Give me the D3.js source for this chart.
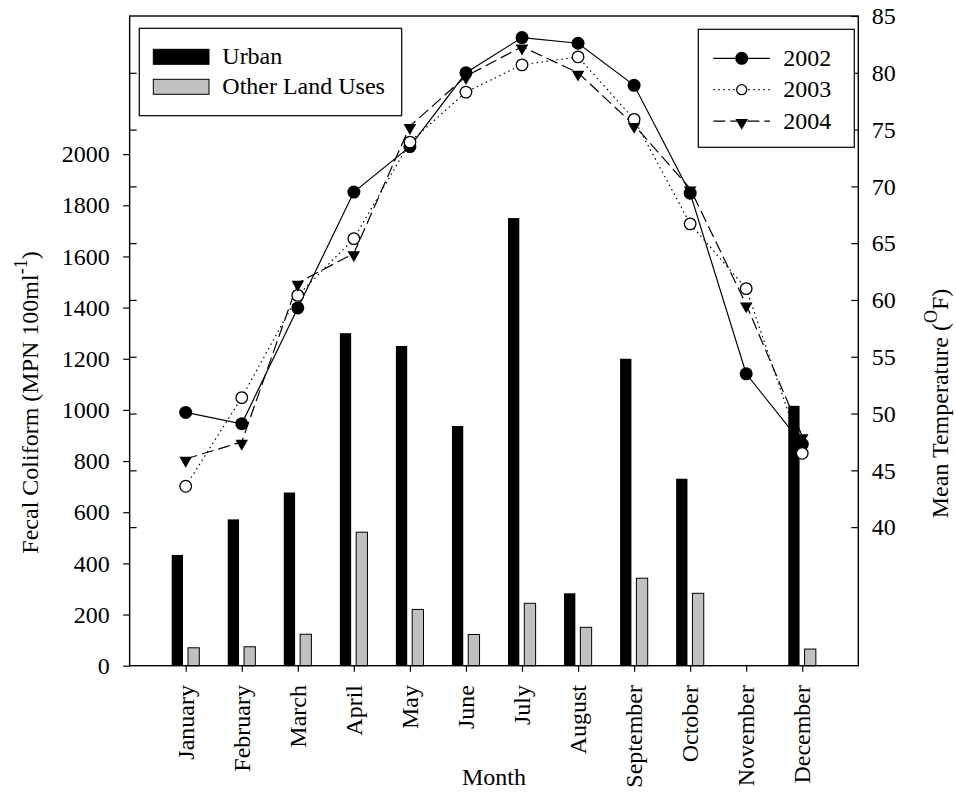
<!DOCTYPE html>
<html>
<head>
<meta charset="utf-8">
<script src="https://cdn.jsdelivr.net/npm/d3@7"></script>
<style>
  html, body { margin: 0; padding: 0; background: #fff; }
</style>
</head>
<body>
<svg id="chart" width="956" height="794"></svg>
<script>
// Monthly fecal coliform counts (bars, left axis)
const months = ["January", "February", "March", "April", "May", "June",
                "July", "August", "September", "October", "November", "December"];
const urban = [433, 572, 677, 1300, 1250, 937, 1750, 283, 1200, 731, 0, 1016];
const otherLandUses = [70, 74, 123, 522, 220, 122, 244, 150, 342, 283, 0, 65];

// Mean monthly temperature (lines, right axis, degrees F)
const temp2002 = [50.1, 49.1, 59.3, 69.5, 73.5, 80.0, 83.1, 82.6, 78.9, 69.4, 53.5, 47.3];
const temp2003 = [43.6, 51.4, 60.4, 65.4, 73.9, 78.3, 80.7, 81.4, 75.9, 66.7, 61.0, 46.5];
const temp2004 = [46.0, 47.5, 61.5, 64.1, 75.3, 79.7, 82.3, 80.0, 75.4, 69.8, 59.6, 48.0];

const coliformTicks = [0, 200, 400, 600, 800, 1000, 1200, 1400, 1600, 1800, 2000];
const tempTicks = [40, 45, 50, 55, 60, 65, 70, 75, 80, 85];

const SERIF = "'Liberation Serif', 'Times New Roman', Times, serif";
const svg = d3.select("#chart");
const plotLeft = 129.65, plotRight = 858.3, plotTop = 16, plotBottom = 665.7;
const FONT = 24;

const x = d3.scalePoint().domain(months).range([plotLeft, plotRight]).padding(1);
const yL = d3.scaleLinear().domain([0, 2540]).range([plotBottom, plotTop]);
const yR = d3.scaleLinear().domain([27.8, 85]).range([plotBottom, plotTop]);
const sub = d3.scaleBand().domain(["urban", "other"]).range([-14, 13.6]).paddingInner(0.307);

// Bars
const barData = months.map((m, i) => ({ m, urban: urban[i], other: otherLandUses[i] }));
const g = svg.append("g");
g.selectAll("rect.urban").data(barData).join("rect")
  .attr("class", "urban")
  .attr("x", d => x(d.m) + sub("urban"))
  .attr("width", sub.bandwidth())
  .attr("y", d => yL(d.urban))
  .attr("height", d => plotBottom - yL(d.urban))
  .attr("fill", "#000");
g.selectAll("rect.other").data(barData.filter(d => d.other > 0)).join("rect")
  .attr("class", "other")
  .attr("x", d => x(d.m) + sub("other"))
  .attr("width", sub.bandwidth())
  .attr("y", d => yL(d.other))
  .attr("height", d => plotBottom - yL(d.other))
  .attr("fill", "#c0c0c0")
  .attr("stroke", "#000")
  .attr("stroke-width", 1);

// Frame
svg.append("rect")
  .attr("x", plotLeft).attr("y", plotTop)
  .attr("width", plotRight - plotLeft).attr("height", plotBottom - plotTop)
  .attr("fill", "none").attr("stroke", "#000").attr("stroke-width", 1.4);

// Axes
function styleAxis(sel) {
  sel.select(".domain").remove();
  sel.selectAll(".tick line").attr("stroke", "#000").attr("stroke-width", 1.2);
  sel.selectAll(".tick text").attr("font-size", FONT).attr("fill", "#000");
  sel.attr("font-family", SERIF).attr("font-size", FONT);
}

const axL = svg.append("g").attr("transform", `translate(${plotLeft},0)`)
  .call(d3.axisLeft(yL).tickValues(coliformTicks).tickSize(6.5).tickPadding(13.5).tickFormat(d3.format("d")));
styleAxis(axL);

const axR = svg.append("g").attr("transform", `translate(${plotRight},0)`)
  .call(d3.axisRight(yR).tickValues(tempTicks).tickSize(-7).tickPadding(13.4).tickFormat(d3.format("d")));
styleAxis(axR);

// temperature ticks repeated along the left frame
const axRm = svg.append("g").attr("transform", `translate(${plotLeft},0)`)
  .call(d3.axisLeft(yR).tickValues(tempTicks.filter(t => t < 85)).tickSize(-7).tickFormat(""));
styleAxis(axRm);

const axB = svg.append("g").attr("transform", `translate(0,${plotBottom})`)
  .call(d3.axisBottom(x).tickSize(6));
styleAxis(axB);
axB.selectAll(".tick text")
  .attr("transform", "rotate(-90)")
  .attr("x", -19.3).attr("y", 0).attr("dy", "0.32em")
  .attr("text-anchor", "end");

// Temperature lines
const series = [
  { name: "2002", values: temp2002, dash: null, marker: "filled" },
  { name: "2003", values: temp2003, dash: "1.5,3.5", marker: "open" },
  { name: "2004", values: temp2004, dash: "12,5", marker: "tri" }
];
const line = d3.line().x((v, i) => x(months[i])).y(v => yR(v));
const triangle = d3.symbol(d3.symbolTriangle, 68)();

function drawMarker(sel, type, small) {
  if (type === "filled") {
    sel.append("circle").attr("r", 6.5).attr("fill", "#000");
  } else if (type === "open") {
    sel.append("circle").attr("r", small ? 5 : 5.8).attr("fill", "#fff")
      .attr("stroke", "#000").attr("stroke-width", 1.3);
  } else {
    sel.append("path").attr("d", triangle).attr("transform", "translate(0,1.5) rotate(180)").attr("fill", "#000");
  }
}

series.forEach(s => {
  svg.append("path")
    .attr("d", line(s.values))
    .attr("fill", "none").attr("stroke", "#000").attr("stroke-width", 1.2)
    .attr("stroke-dasharray", s.dash);
});
series.forEach(s => {
  s.values.forEach((v, i) => {
    const m = svg.append("g").attr("transform", `translate(${x(months[i])},${yR(v)})`);
    drawMarker(m, s.marker, false);
  });
});

// Bar legend
const lg1 = svg.append("g");
lg1.append("rect").attr("x", 139.3).attr("y", 28.3).attr("width", 262.4).attr("height", 87.4)
  .attr("fill", "#fff").attr("stroke", "#000").attr("stroke-width", 1.2);
const barKeys = [
  { label: "Urban", fill: "#000", y: 49.3 },
  { label: "Other Land Uses", fill: "#c0c0c0", y: 79.3 }
];
barKeys.forEach(k => {
  lg1.append("rect").attr("x", 153.3).attr("y", k.y).attr("width", 55.7).attr("height", 15)
    .attr("fill", k.fill).attr("stroke", "#000").attr("stroke-width", 1);
  lg1.append("text").attr("x", 222.3).attr("y", k.y + 7.5).attr("dy", "0.32em")
    .attr("font-size", FONT).text(k.label);
});

// Line legend
const lg2 = svg.append("g");
lg2.append("rect").attr("x", 698.3).attr("y", 29.3).attr("width", 156).attr("height", 118)
  .attr("fill", "#fff").attr("stroke", "#000").attr("stroke-width", 1.2);
series.forEach((s, i) => {
  const yy = 58.3 + i * 31.4;
  lg2.append("line").attr("x1", 713.3).attr("x2", 770).attr("y1", yy).attr("y2", yy)
    .attr("stroke", "#000").attr("stroke-width", 1.2).attr("stroke-dasharray", s.dash);
  const m = lg2.append("g").attr("transform", `translate(741.7,${yy})`);
  drawMarker(m, s.marker, true);
  lg2.append("text").attr("x", 783.3).attr("y", yy).attr("dy", "0.32em")
    .attr("font-size", FONT).text(s.name);
});

// Axis titles
const tL = svg.append("text")
  .attr("transform", "translate(37.5,402.5) rotate(-90)")
  .attr("text-anchor", "middle").attr("font-size", FONT);
tL.append("tspan").text("Fecal Coliform (MPN 100ml");
tL.append("tspan").attr("font-size", 18).attr("dy", -11).text("-1");
tL.append("tspan").attr("dy", 11).text(")");

const tR = svg.append("text")
  .attr("transform", "translate(948,403.5) rotate(-90)")
  .attr("text-anchor", "middle").attr("font-size", FONT);
tR.append("tspan").text("Mean Temperature (");
tR.append("tspan").attr("font-size", 18).attr("dy", -11).text("O");
tR.append("tspan").attr("dy", 11).text("F)");

svg.append("text").attr("x", (plotLeft + plotRight) / 2).attr("y", 785)
  .attr("text-anchor", "middle").attr("font-size", FONT).text("Month");

// one serif face for every label
svg.selectAll("text").attr("font-family", SERIF).style("font-family", SERIF).attr("fill", "#000");
</script>
</body>
</html>
